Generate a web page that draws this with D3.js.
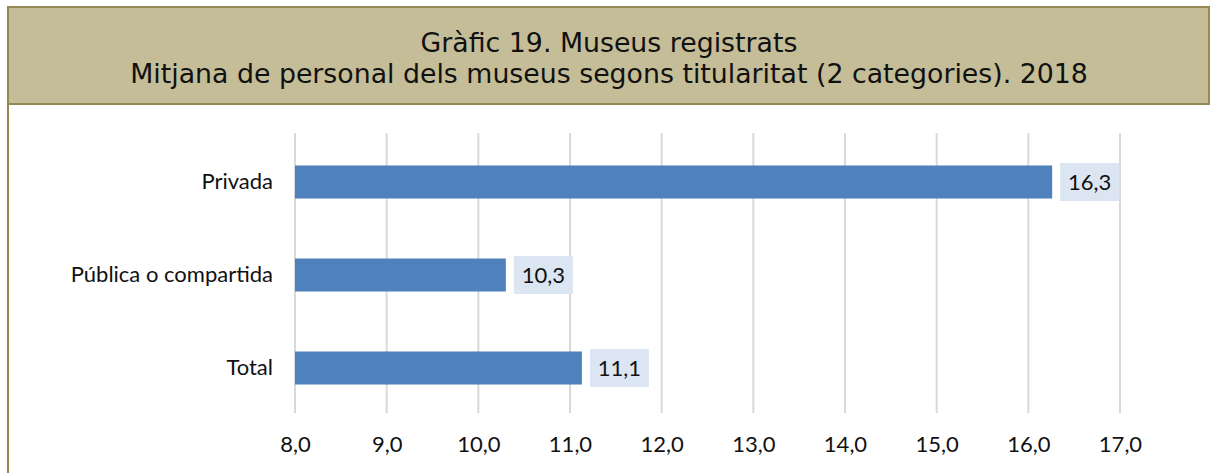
<!DOCTYPE html>
<html>
<head>
<meta charset="utf-8">
<script src="https://cdn.jsdelivr.net/npm/d3@7"></script>
<style>
  body { margin: 0; background: #fff; }
  svg { display: block; }
</style>
</head>
<body>
<svg id="chart"></svg>
<script>
// data
var categories = ['Privada', 'Pública o compartida', 'Total'];
var values = [16.26, 10.3, 11.13];
var tick_values = [8, 9, 10, 11, 12, 13, 14, 15, 16, 17];
var title_lines = ['Gràfic 19. Museus registrats',
    'Mitjana de personal dels museus segons titularitat (2 categories). 2018'];

var width = 1210, height = 473;
var color_bar = '#4f81bd';
var color_label_bg = '#dce6f2';
var color_grid = '#d9d9d9';
var color_head = '#c4bd97';
var color_frame = '#938953';
var font_body = 'Lato, sans-serif';
var font_size = 22;

var svg = d3.select('#chart')
    .attr('width', width)
    .attr('height', height);

// frame + header band
svg.append('line')
    .attr('x1', 8).attr('y1', 7).attr('x2', 8).attr('y2', height)
    .attr('stroke', color_frame).attr('stroke-width', 2);
svg.append('rect')
    .attr('x', 8).attr('y', 7)
    .attr('width', 1201).attr('height', 97)
    .attr('fill', color_head)
    .attr('stroke', color_frame)
    .attr('stroke-width', 2);

var t = svg.append('text')
    .attr('text-anchor', 'middle')
    .attr('font-family', 'DejaVu Sans, Verdana, sans-serif')
    .attr('font-size', 24)
    .attr('fill', '#111');
t.append('tspan').attr('x', 609).attr('y', 52).text(title_lines[0]);
var t2 = t.append('tspan').attr('x', 609).attr('y', 83).text(title_lines[1]);
// fit the long line to the width it has in the picture
var w2 = t2.node().getComputedTextLength();
t.attr('font-size', 24 * 958 / w2);

// plot
var plot_top = 133, plot_bottom = 413;
var x = d3.scaleLinear()
    .domain([8, 17])
    .range([295, 1120]);
var y = d3.scaleBand()
    .domain(categories)
    .range([148, 402])
    .paddingInner(0.645)
    .paddingOuter(0.188);

var fmt = function(v) { return v.toFixed(1).replace('.', ','); };

// gridlines
svg.append('g')
    .selectAll('line')
    .data(tick_values)
    .join('line')
    .attr('x1', function(d) { return x(d); })
    .attr('x2', function(d) { return x(d); })
    .attr('y1', plot_top)
    .attr('y2', plot_bottom)
    .attr('stroke', color_grid)
    .attr('stroke-width', 2);

// x axis labels
var xAxis = d3.axisBottom(x)
    .tickValues(tick_values)
    .tickFormat(fmt)
    .tickSize(0)
    .tickPadding(0);
var gx = svg.append('g')
    .attr('transform', 'translate(0, 436)')
    .call(xAxis);
gx.select('.domain').remove();
gx.selectAll('text')
    .attr('font-family', font_body)
    .attr('font-size', font_size)
    .attr('fill', '#111');

// y axis labels
var yAxis = d3.axisLeft(y).tickSize(0).tickPadding(22);
var gy = svg.append('g')
    .attr('transform', 'translate(' + x(8) + ', 0)')
    .call(yAxis);
gy.select('.domain').remove();
gy.selectAll('text')
    .attr('font-family', font_body)
    .attr('font-size', font_size)
    .attr('fill', '#111');

// bars
var rows = categories.map(function(c, i) { return {cat: c, val: values[i]}; });
svg.append('g')
    .selectAll('rect')
    .data(rows)
    .join('rect')
    .attr('x', x(8))
    .attr('y', function(d) { return y(d.cat); })
    .attr('width', function(d) { return x(d.val) - x(8); })
    .attr('height', y.bandwidth())
    .attr('fill', color_bar);

// value labels in light boxes
var lab = svg.append('g')
    .selectAll('g')
    .data(rows)
    .join('g')
    .attr('transform', function(d) {
        return 'translate(' + (x(d.val) + 8) + ', ' + (y(d.cat) + y.bandwidth() / 2) + ')';
    });
lab.append('rect')
    .attr('x', 0).attr('y', -19)
    .attr('width', 59).attr('height', 38)
    .attr('fill', color_label_bg);
lab.append('text')
    .attr('x', 29.5)
    .attr('y', 0)
    .attr('dy', '0.35em')
    .attr('text-anchor', 'middle')
    .attr('font-family', font_body)
    .attr('font-size', font_size)
    .attr('fill', '#111')
    .text(function(d) { return fmt(d.val); });
</script>
</body>
</html>
